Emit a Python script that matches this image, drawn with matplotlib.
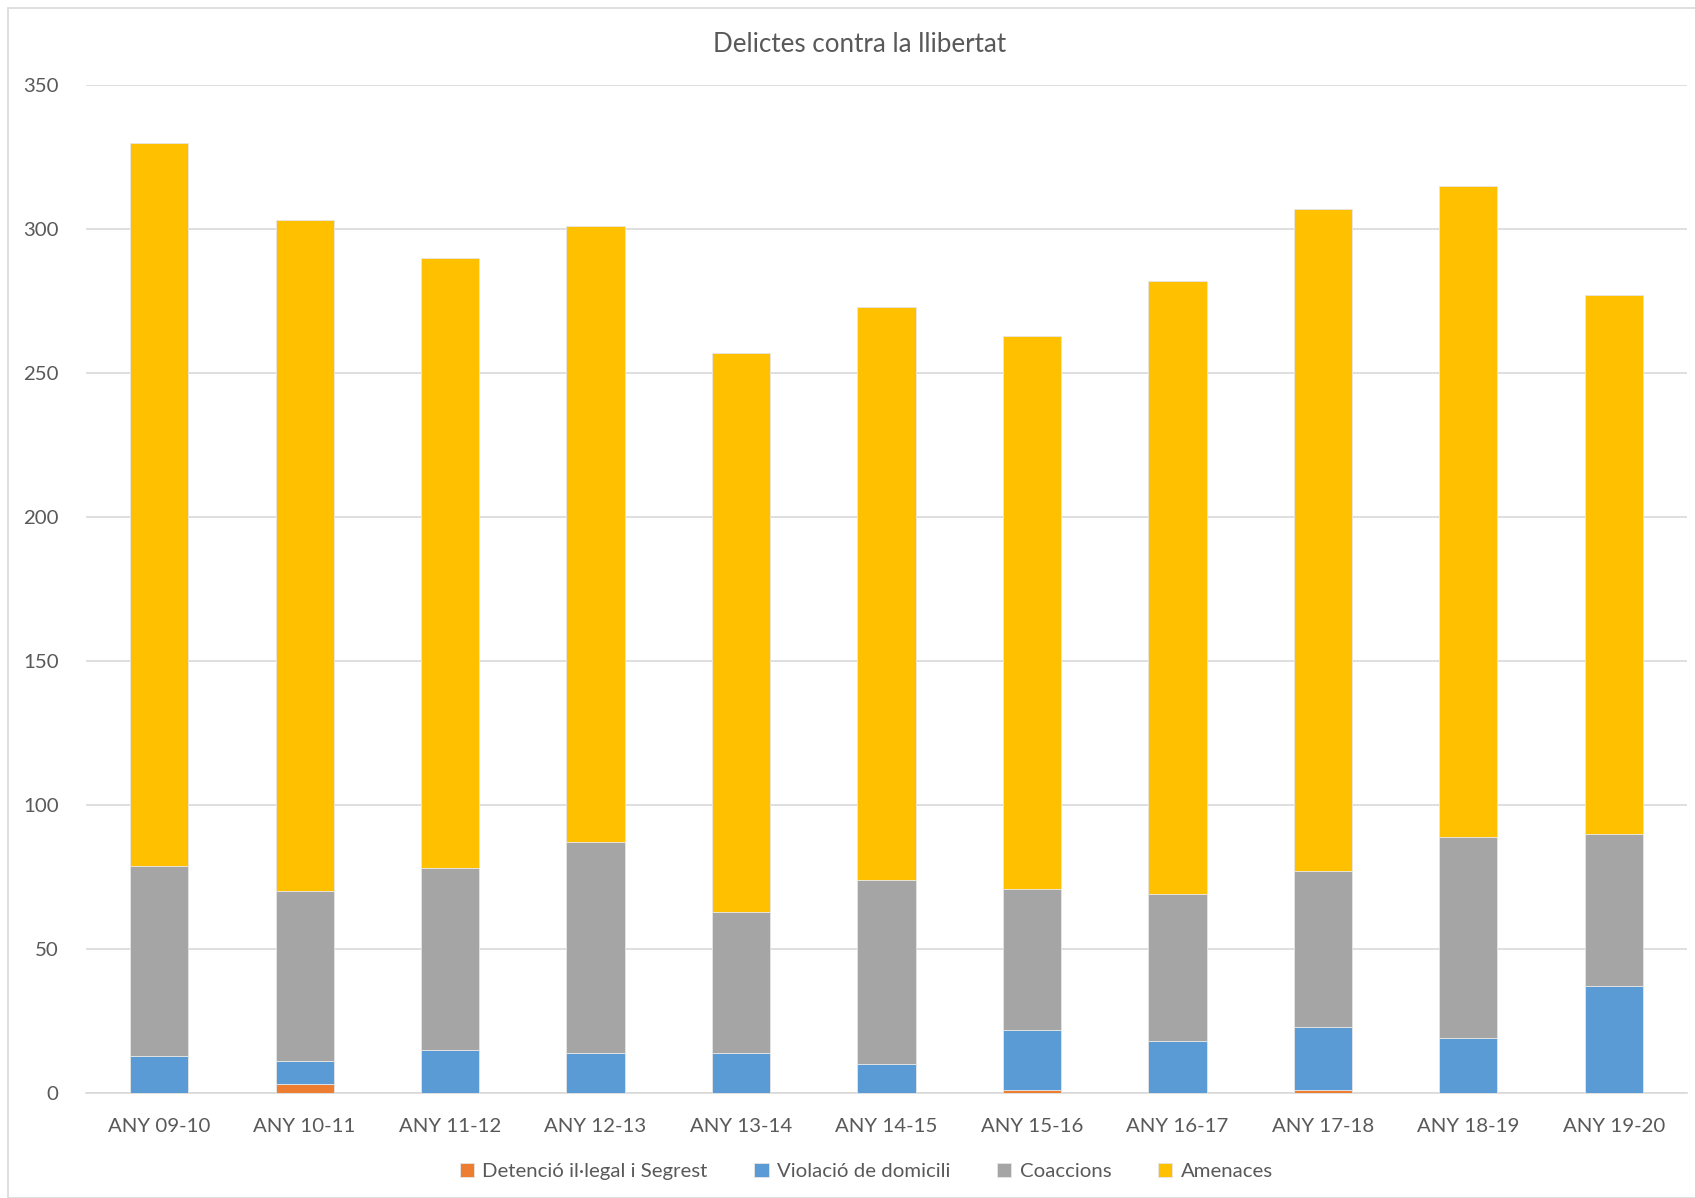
import numpy as np
import matplotlib
matplotlib.use("Agg")
import matplotlib.pyplot as plt
from matplotlib.patches import Rectangle

# -------------------------
# Dades
# -------------------------
categories = ["ANY 09-10", "ANY 10-11", "ANY 11-12", "ANY 12-13", "ANY 13-14",
              "ANY 14-15", "ANY 15-16", "ANY 16-17", "ANY 17-18", "ANY 18-19",
              "ANY 19-20"]
detencio = [0, 3, 0, 0, 0, 0, 1, 0, 1, 0, 0]
violacio = [13, 8, 15, 14, 14, 10, 21, 18, 22, 19, 37]
coaccions = [66, 59, 63, 73, 49, 64, 49, 51, 54, 70, 53]
amenaces = [251, 233, 212, 214, 194, 199, 192, 213, 230, 226, 187]

series_names = ["Detenció il·legal i Segrest", "Violació de domicili",
                "Coaccions", "Amenaces"]
colors = ["#ED7D31", "#5B9BD5", "#A5A5A5", "#FFC000"]
y_ticks = [0, 50, 100, 150, 200, 250, 300, 350]

# -------------------------
# Figura
# -------------------------
plt.rcParams["font.family"] = ["Lato", "DejaVu Sans"]
text_col = "#595959"

fig = plt.figure(figsize=(16.95, 11.98), dpi=100)
ax = fig.add_axes([0.051, 0.0876, 0.944, 0.8414])

x = np.arange(len(categories))
bottom = np.zeros(len(categories))
for name, vals, col in zip(series_names, [detencio, violacio, coaccions, amenaces], colors):
    ax.bar(x, vals, 0.4, bottom=bottom, color=col, label=name,
           edgecolor="#E6E6E6", linewidth=0.6, zorder=3)
    bottom += np.array(vals)

ax.set_xlim(-0.5, len(categories) - 0.5)
ax.set_ylim(0, 350)
ax.set_yticks(y_ticks)
ax.set_xticks(x)
ax.set_xticklabels(categories)
ax.tick_params(axis="both", length=0, labelsize=14.7, colors=text_col)
ax.tick_params(axis="y", pad=20)
ax.tick_params(axis="x", pad=18)
ax.yaxis.grid(True, color="#D9D9D9", linewidth=1.2, zorder=0)
for s in ["top", "right", "left"]:
    ax.spines[s].set_visible(False)
ax.spines["bottom"].set_color("#D9D9D9")
ax.spines["bottom"].set_linewidth(1.2)

fig.text(0.507, 0.963, "Delictes contra la llibertat", ha="center", va="center",
         fontsize=18.7, color=text_col)

handles, labels = ax.get_legend_handles_labels()
fig.legend(handles, labels, loc="center", bbox_to_anchor=(0.511, 0.022),
           ncol=4, frameon=False, fontsize=14.7, labelcolor=text_col,
           handlelength=0.7, handleheight=0.7, handletextpad=0.4,
           columnspacing=2.3)

# marc exterior
fig.patches.append(Rectangle((8 / 1695, 0.0), 1.0, 1 - 8 / 1198,
                             transform=fig.transFigure, fill=False,
                             edgecolor="#D9D9D9", linewidth=1.2))

fig.savefig("out.png", dpi=100)
